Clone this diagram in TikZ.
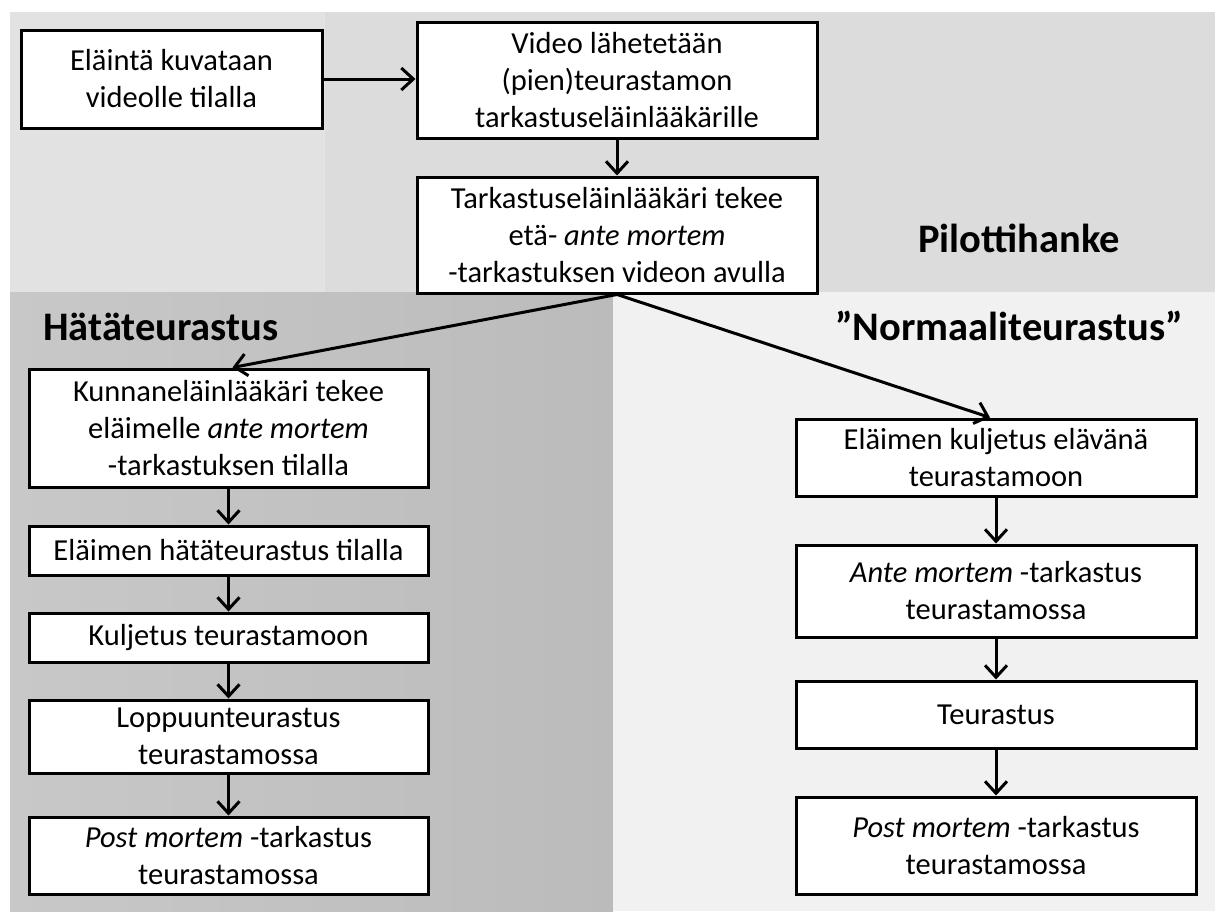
\documentclass[tikz,border=0pt]{standalone}
\usepackage{fontspec}
\setmainfont{Carlito}
\usetikzlibrary{arrows.meta}
\definecolor{topbg}{HTML}{DCDCDC}
\definecolor{topbgl}{HTML}{E2E2E2}
\definecolor{leftbgl}{HTML}{C8C8C8}
\definecolor{leftbgr}{HTML}{BBBBBB}
\definecolor{rightbg}{HTML}{F1F1F1}
\tikzset{
  flowbox/.style={draw=black, line width=3pt, fill=white, rectangle, inner sep=0pt,
    align=center, font=\fontsize{30.5}{37}\selectfont},
  flowarrow/.style={line width=3pt, -{Straight Barb[length=12pt,width=22pt,line width=3pt]}},
  paneltitle/.style={font=\fontsize{40.5}{46}\selectfont\bfseries, inner sep=0pt}
}
\begin{document}
\begin{tikzpicture}[x=1pt,y=-1pt]
\useasboundingbox (0,0) rectangle (1224,911);
\fill[white] (0,0) rectangle (1224,911);
% backgrounds
\fill[topbg] (10,12) rectangle (1215,292);
\fill[topbgl] (10,12) rectangle (325,292);
\shade[left color=leftbgl, right color=leftbgr] (10,292) rectangle (613,911);
\fill[rightbg] (613,292) rectangle (1215,911);
% titles
\node[paneltitle, anchor=base] (pilot) at (1019,252) {Pilottihanke};
\node[paneltitle, anchor=base west] (hata) at (43,340) {Hätäteurastus};
\node[paneltitle, anchor=base] (norm) at (1009,340) {”Normaaliteurastus”};
% top boxes
\node[flowbox, minimum width=301pt, minimum height=98pt] (b1) at (171.5,79) {Eläintä kuvataan\\videolle tilalla};
\node[flowbox, minimum width=400pt, minimum height=116pt] (b2) at (617,80) {Video lähetetään\\(pien)teurastamon\\tarkastuseläinlääkärille};
\node[flowbox, minimum width=400pt, minimum height=116pt] (b3) at (617,235) {Tarkastuseläinlääkäri tekee\\etä- \textit{ante mortem}\\-tarkastuksen videon avulla};
% left column
\node[flowbox, minimum width=399pt, minimum height=118pt] (l1) at (228.5,428) {Kunnaneläinlääkäri tekee\\eläimelle \textit{ante mortem}\\-tarkastuksen tilalla};
\node[flowbox, minimum width=399pt, minimum height=49pt] (l2) at (228.5,550.5) {Eläimen hätäteurastus tilalla};
\node[flowbox, minimum width=399pt, minimum height=49pt] (l3) at (228.5,637.5) {Kuljetus teurastamoon};
\node[flowbox, minimum width=399pt, minimum height=73pt] (l4) at (228.5,736.5) {Loppuunteurastus\\teurastamossa};
\node[flowbox, minimum width=399pt, minimum height=77pt] (l5) at (228.5,855.5) {\textit{Post mortem} -tarkastus\\teurastamossa};
% right column
\node[flowbox, minimum width=400pt, minimum height=77pt] (r1) at (996,457.5) {Eläimen kuljetus elävänä\\teurastamoon};
\node[flowbox, minimum width=400pt, minimum height=92pt] (r2) at (996,591) {\textit{Ante mortem} -tarkastus\\teurastamossa};
\node[flowbox, minimum width=400pt, minimum height=67pt] (r3) at (996,714.5) {Teurastus};
\node[flowbox, minimum width=400pt, minimum height=97pt] (r4) at (996,845.5) {\textit{Post mortem} -tarkastus\\teurastamossa};
% connectors
\draw[flowarrow] (b1.east) -- (b1.east -| b2.west);
\draw[flowarrow] (b2.south) -- (b3.north);
\draw[flowarrow] (b3.south) -- ([xshift=4pt]l1.north);
\draw[flowarrow] (b3.south) -- ([xshift=-6pt]r1.north);
\draw[flowarrow] (l1.south) -- (l2.north);
\draw[flowarrow] (l2.south) -- (l3.north);
\draw[flowarrow] (l3.south) -- (l4.north);
\draw[flowarrow] (l4.south) -- (l5.north);
\draw[flowarrow] (r1.south) -- (r2.north);
\draw[flowarrow] (r2.south) -- (r3.north);
\draw[flowarrow] (r3.south) -- (r4.north);
\end{tikzpicture}
\end{document}
